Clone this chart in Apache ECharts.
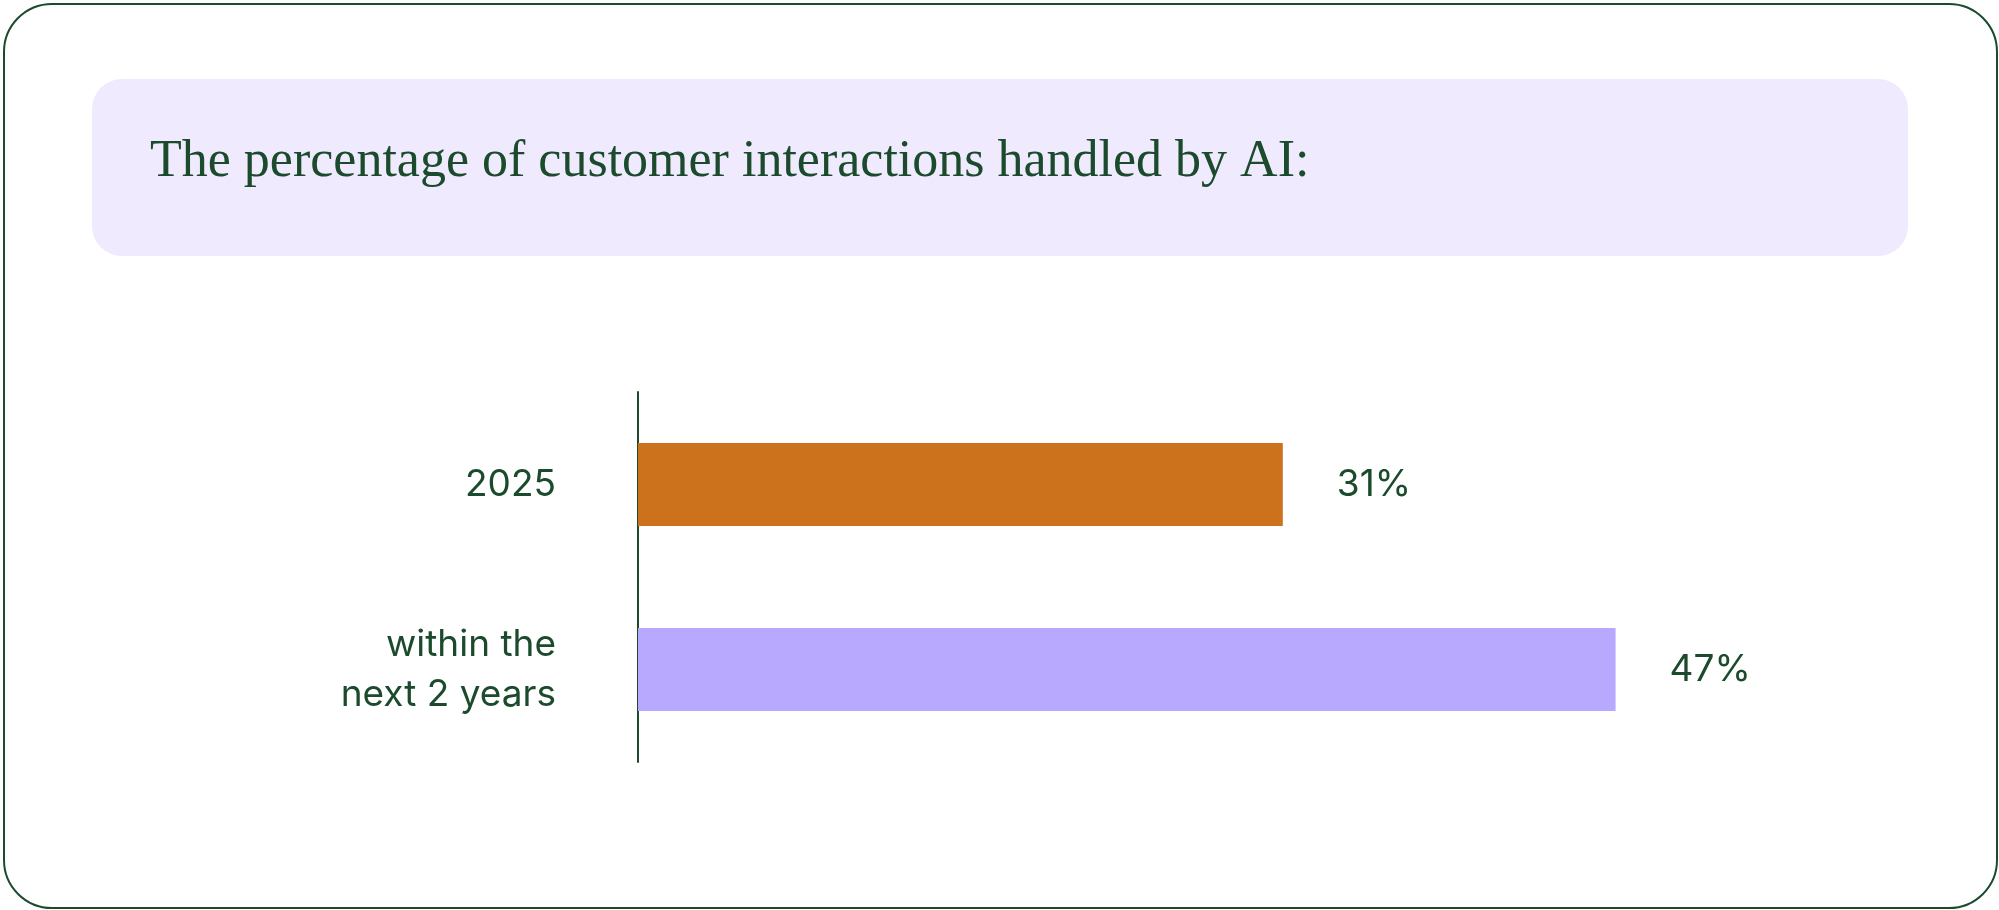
<!DOCTYPE html>
<html><head><meta charset="utf-8">
<script src="https://cdn.jsdelivr.net/npm/echarts@6/dist/echarts.min.js"></script>
<style>html,body{margin:0;padding:0;background:#fff}#c{width:1999px;height:910px}</style>
</head><body><div id="c"></div>
<script>
const categories = ['2025', 'within the\nnext 2 years'];
const values = [31, 47];
const barColors = ['#cc711c', '#b8a8fe'];
const titleText = 'The percentage of customer interactions handled by AI:';
const green = '#1b4a2c';
const chart = echarts.init(document.getElementById('c'));
chart.setOption({
  animation: false,
  graphic: [
    {type:'rect', left:3, top:3, shape:{width:1993, height:904, r:48}, style:{fill:'#fff', stroke:green, lineWidth:2}, z:-10},
    {type:'rect', left:92, top:79, shape:{width:1816, height:177, r:30}, style:{fill:'#efeafd'}, z:-5},
    {type:'text', left:150, top:136, style:{text:titleText, font:'52px "Liberation Serif", serif', fill:green}}
  ],
  grid: {left:638, top:392, width:1248, height:370},
  xAxis: {type:'value', min:0, max:60, show:false},
  yAxis: {type:'category', inverse:true, data:categories,
    axisLine:{lineStyle:{color:green, width:2}}, axisTick:{show:false},
    axisLabel:{color:green, fontSize:37, fontFamily:'Inter', margin:82, align:'right', lineHeight:50}},
  series: [{type:'bar', barWidth:83,
    data: values.map((v,i)=>({value:v, itemStyle:{color:barColors[i]}})),
    label:{show:true, position:'right', distance:54, formatter:'{c}%', color:green, fontSize:37, fontFamily:'Inter'}}]
});
</script></body></html>
